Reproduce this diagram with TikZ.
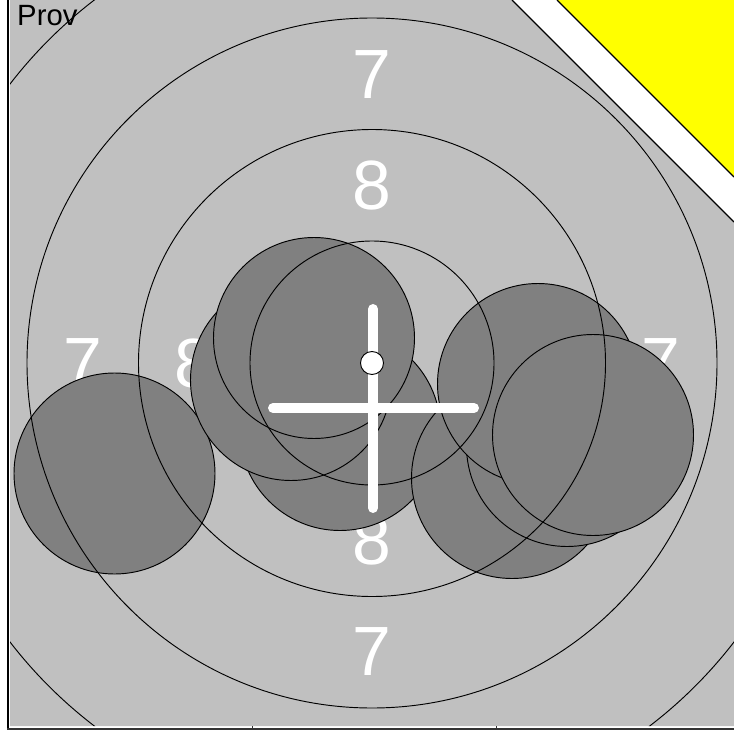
\documentclass[tikz,border=0pt]{standalone}
\usepackage{fontspec}
\setmainfont{Liberation Sans}
\definecolor{boardgray}{HTML}{C0C0C0}
\definecolor{shotgray}{HTML}{808080}
\definecolor{cornerfill}{HTML}{FFFF00}

\begin{document}
\begin{tikzpicture}[x=0.3mm, y=-0.3mm,
            ring/.style={draw=black, line width=0.8pt},
            shot/.style={fill=shotgray, draw=black, line width=0.8pt},
            score/.style={text=white, inner sep=0pt, font=\fontsize{59.5}{60}\selectfont},
            crossbar/.style={draw=white, line width=8.5pt, line cap=round},
            bullseye/.style={circle, fill=white, draw=black, line width=0.8pt, minimum size=6.9mm, inner sep=0pt}]

        \useasboundingbox (0,0) rectangle (734,731);
        \fill[white] (0,0) rectangle (734,731);

        \fill[boardgray] (10,0) -- (512,0) -- (734,222) -- (734,726) -- (10,726) -- cycle;
        \fill[cornerfill] (557,0) -- (734,0) -- (734,177) -- cycle;
        \draw[line width=1.1pt] (512,0) -- (734,222);
        \draw[line width=1.1pt] (557,0) -- (734,177);

        \node[score] (s7n) at (372,74.5) {7};
        \node[score] (s8n) at (372,185.5) {8};
        \node[score] (s7w) at (83,363) {7};
        \node[score] (s8w) at (194,363) {8};
        \node[score] (s8e) at (550,363) {8};
        \node[score] (s7e) at (661,363) {7};
        \node[score] (s8s) at (372,540.5) {8};
        \node[score] (s7s) at (372,652) {7};

        \foreach \sx/\sy in {114.5/473.5, 340/430, 291/380, 314/338, 512/478, 567/446, 538/384, 593/435}
            \draw[shot] (\sx,\sy) circle (100.5);

        \begin{scope}
            \clip (10,0) -- (512,0) -- (734,222) -- (734,726) -- (10,726) -- cycle;
            \foreach \r in {122, 233.5, 345, 457}
                \draw[ring] (372,363) circle (\r);
        \end{scope}

        \draw[crossbar] (273,408) -- (474,408);
        \draw[crossbar] (373,309) -- (373,508);
        \node[bullseye] (ten) at (372,363) {};

        \node[anchor=base west, inner sep=0pt, font=\fontsize{25}{25}\selectfont] (prov) at (17,26) {Prov};

        \draw[line width=1.7pt] (8,0) -- (8,730);
        \draw[black!80, line width=2pt] (7,728.7) -- (734,728.7);
        \draw[black!80, line width=0.8pt] (252,726) -- (252,729) (496,726) -- (496,729);

    \end{tikzpicture}
\end{document}
